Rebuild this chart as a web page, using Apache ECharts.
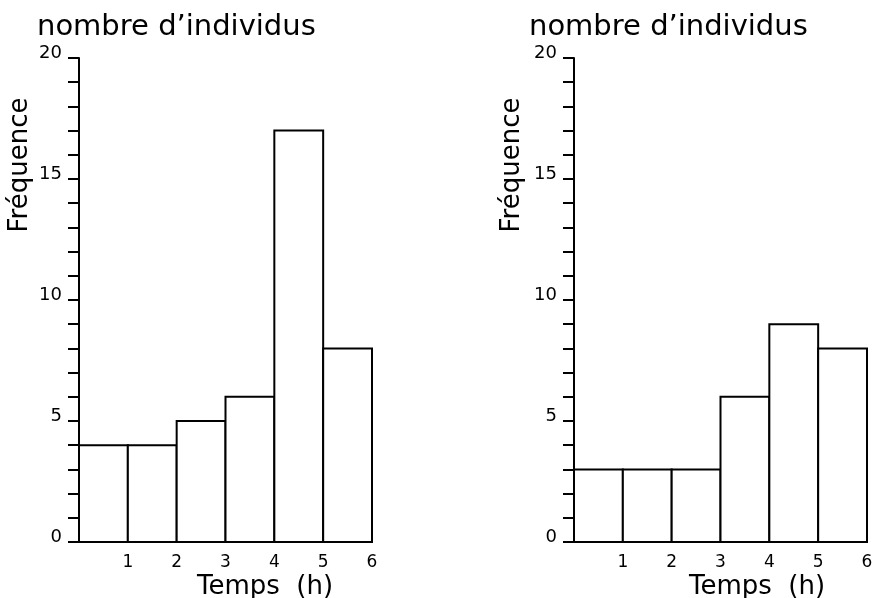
<!DOCTYPE html>
<html>
<head>
<meta charset="utf-8">
<script src="https://cdn.jsdelivr.net/npm/echarts@6/dist/echarts.min.js"></script>
<style>html,body{margin:0;padding:0;background:#fff}#c{width:879px;height:598px}</style>
</head>
<body>
<div id="c"></div>
<script>
const binStart = [0, 1, 2, 3, 4, 5];
const binEnd = [1, 2, 3, 4, 5, 6];
const leftCounts = [4, 4, 5, 6, 17, 8];
const rightCounts = [3, 3, 3, 6, 9, 8];
const yTickLabels = ['0', '5', '10', '15', '20'];
const xTickLabels = ['1', '2', '3', '4', '5', '6'];
const titleText = 'nombre d\u2019individus';
const yName = 'Fréquence';
const xName = 'Temps  (h)';

const FONT = 'DejaVu Sans';
const chart = echarts.init(document.getElementById('c'));

function rows(counts) {
  return binStart.map((s, i) => [s, binEnd[i], counts[i]]);
}
function renderItem(params, api) {
  const p0 = api.coord([api.value(0), 0]);
  const p1 = api.coord([api.value(1), api.value(2)]);
  return {
    type: 'rect',
    shape: { x: p0[0], y: p1[1], width: p1[0] - p0[0], height: p0[1] - p1[1] },
    style: { fill: '#fff', stroke: '#000', lineWidth: 2 }
  };
}
function xAxis(idx) {
  return {
    type: 'value', gridIndex: idx, min: 0, max: 6, interval: 1,
    axisLine: { show: true, onZero: false, lineStyle: { color: '#000', width: 2 } },
    axisTick: { show: false },
    splitLine: { show: false },
    axisLabel: {
      color: '#000', fontFamily: FONT, fontSize: 17, margin: 12,
      formatter: v => (v >= 1 ? xTickLabels[v - 1] : '')
    }
  };
}
function yAxis(idx) {
  return {
    type: 'value', gridIndex: idx, min: 0, max: 20, interval: 1,
    axisLine: { show: true, lineStyle: { color: '#000', width: 2 } },
    axisTick: { show: true, inside: false, length: 11, lineStyle: { color: '#000', width: 2 } },
    splitLine: { show: false },
    axisLabel: {
      color: '#000', fontFamily: FONT, fontSize: 18, margin: 17,
      verticalAlign: 'bottom', lineHeight: 10,
      formatter: v => (v % 5 === 0 ? yTickLabels[v / 5] : '')
    }
  };
}
function texts(dx, dxy, dxx) {
  return [
    { type: 'text', left: 37 + dx, top: 13,
      style: { text: titleText, font: '29px "' + FONT + '"', fill: '#000' } },
    { type: 'text', x: 20 + dxy, y: 165, rotation: Math.PI / 2,
      style: { text: yName, font: '26px "' + FONT + '"', fill: '#000', textAlign: 'center', textVerticalAlign: 'middle' } },
    { type: 'text', x: 265 + dxx, y: 587,
      style: { text: xName, font: '26px "' + FONT + '"', fill: '#000', textAlign: 'center', textVerticalAlign: 'middle' } }
  ];
}

chart.setOption({
  animation: false,
  backgroundColor: '#fff',
  grid: [
    { left: 79, top: 58, width: 293, height: 484 },
    { left: 574, top: 58, width: 293, height: 484 }
  ],
  xAxis: [xAxis(0), xAxis(1)],
  yAxis: [yAxis(0), yAxis(1)],
  series: [
    { type: 'custom', xAxisIndex: 0, yAxisIndex: 0, renderItem, clip: false,
      encode: { x: [0, 1], y: 2 }, data: rows(leftCounts), z: 1 },
    { type: 'custom', xAxisIndex: 1, yAxisIndex: 1, renderItem, clip: false,
      encode: { x: [0, 1], y: 2 }, data: rows(rightCounts), z: 1 }
  ],
  graphic: texts(0, 0, 0).concat(texts(492, 492, 492))
});
</script>
</body>
</html>
